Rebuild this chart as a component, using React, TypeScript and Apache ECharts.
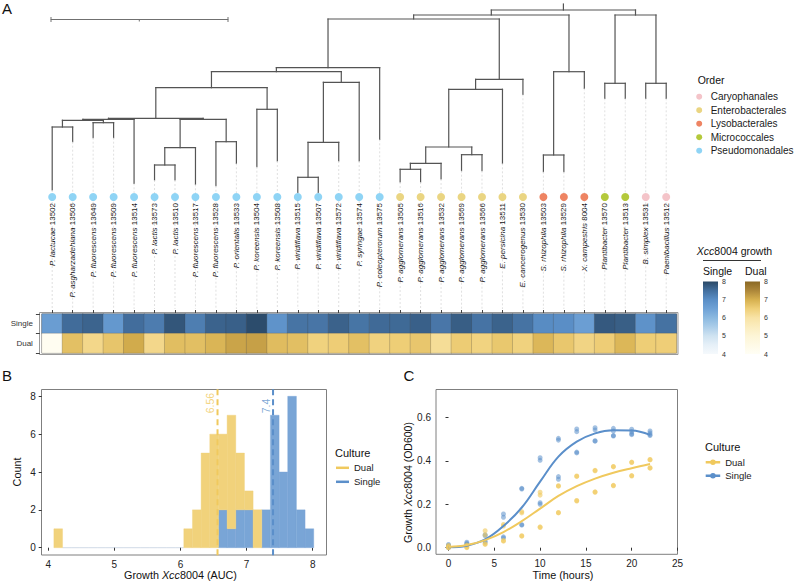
import React, { useEffect, useRef } from "react";
import * as echarts from "echarts";

const FONT = '"Liberation Sans", Arial, Helvetica, sans-serif';

// ---- Isolates, in tree (leaf) order ----
const species = [
  "P. lactucae", "P. asgharzadehiana", "P. fluorescens", "P. fluorescens", "P. fluorescens",
  "P. lactis", "P. lactis", "P. fluorescens", "P. fluorescens", "P. orientalis",
  "P. koreensis", "P. koreensis", "P. viridiflava", "P. viridiflava", "P. viridiflava",
  "P. syringae", "P. coleopterorum", "P. agglomerans", "P. agglomerans", "P. agglomerans",
  "P. agglomerans", "P. agglomerans", "E. persicina", "E. cancerogenus", "S. rhizophila",
  "S. rhizophila", "X. campestris", "Plantibacter", "Plantibacter", "B. simplex", "Paenibacillus",
];
const strainIds = [
  "13502", "13506", "13649", "13509", "13514", "13573", "13510", "13517", "13528", "13533",
  "13504", "13508", "13515", "13507", "13572", "13574", "13575", "13505", "13516", "13532",
  "13569", "13566", "13511", "13530", "13503", "13529", "8004", "13570", "13513", "13531", "13512",
];
const orderNames = ["Caryophanales", "Enterobacterales", "Lysobacterales", "Micrococcales", "Pseudomonadales"];
const orderColors = ["#f4c4c9", "#ead582", "#ee8463", "#b4c93b", "#8fd4f5"];
// index into orderNames for every leaf
const leafOrder = [4, 4, 4, 4, 4, 4, 4, 4, 4, 4, 4, 4, 4, 4, 4, 4, 4, 1, 1, 1, 1, 1, 1, 1, 2, 2, 2, 3, 3, 0, 0];

// ---- Tree: distance from the root of every tip and every clade ----
const tipDepth = [
  180, 131.7, 127.7, 127.7, 173.3, 170, 170, 174.3, 175.7, 153.3, 156.7, 151, 182.7, 182.7, 151, 151,
  129.3, 172, 172, 169, 160.7, 160.7, 153.3, 84.3, 161.7, 161.7, 78.3, 88.3, 88.3, 88.3, 88.3,
];
// [clade, depth, children (leaf index or clade)]
const clades: [string, number, (string | number)[]][] = [
  ["root", 0, ["left", "right"]],
  ["left", 5, ["pe", "lyso"]],
  ["right", 5, ["micro", "caryo"]],
  ["pe", 9, ["pseudo", "entero"]],
  ["pseudo", 57.7, ["p1", 16]],
  ["p1", 61.7, ["p2", "p3"]],
  ["p2", 77.7, ["p4", "p5"]],
  ["p4", 108.3, ["p6", "p7"]],
  ["p6", 109.3, ["p8", 4]],
  ["p8", 110.3, ["p9", "p10"]],
  ["p9", 117, [0, 1]],
  ["p10", 112.7, [2, 3]],
  ["p7", 109.3, ["p11", "p12"]],
  ["p11", 137.7, ["p13", 7]],
  ["p13", 155, [5, 6]],
  ["p12", 131.7, [8, 9]],
  ["p5", 99.3, [10, 11]],
  ["p3", 72.3, ["p14", 15]],
  ["p14", 132.3, ["p15", 14]],
  ["p15", 167.3, [12, 13]],
  ["entero", 69.3, ["e1", 23]],
  ["e1", 79.3, ["e2", 22]],
  ["e2", 137, ["e3", "e4"]],
  ["e3", 153.3, ["e5", 19]],
  ["e5", 159.3, [17, 18]],
  ["e4", 144.7, [20, 21]],
  ["lyso", 61.7, ["ly1", 26]],
  ["ly1", 145, [24, 25]],
  ["micro", 73.3, [27, 28]],
  ["caryo", 73.3, [29, 30]],
];
const rootEdge = 6;

// ---- Xcc8004 growth (AUC) per isolate ----
const singleAUC = [
  6.63, 7.54, 7.64, 6.76, 7.52, 7.29, 7.82, 7.26, 7.65, 7.69, 7.95, 6.87, 7.42, 7.40, 7.67, 7.41,
  7.56, 7.57, 7.69, 7.38, 7.72, 7.43, 7.66, 7.44, 7.04, 7.00, 6.60, 7.78, 7.71, 6.90, 7.45,
];
const dualAUC = [
  4.15, 6.74, 6.30, 6.66, 7.06, 6.29, 6.78, 6.76, 6.92, 7.15, 7.20, 6.80, 6.76, 6.43, 6.53, 6.75,
  6.42, 6.52, 6.64, 6.16, 6.55, 6.41, 6.62, 6.435, 6.88, 6.63, 6.37, 6.53, 6.89, 6.52, 6.51,
];
const meanDual = 6.56;
const meanSingle = 7.4;

// ---- Growth curves (OD600), four replicates per culture ----
const hours = [0, 2, 4, 6, 8, 10, 12, 14, 16, 18, 20, 22];
const singleOD = [
  [0.015, 0.025, 0.06, 0.155, 0.273, 0.414, 0.503, 0.546, 0.552, 0.549, 0.545, 0.537],
  [0.01, 0.02, 0.055, 0.14, 0.27, 0.402, 0.495, 0.534, 0.542, 0.537, 0.533, 0.528],
  [0.0, 0.015, 0.03, 0.05, 0.106, 0.207, 0.327, 0.44, 0.492, 0.516, 0.524, 0.52],
  [0.003, 0.012, 0.025, 0.045, 0.104, 0.2, 0.315, 0.436, 0.49, 0.514, 0.52, 0.516],
];
const dualOD = [
  [0.01, 0.012, 0.078, 0.107, 0.166, 0.255, 0.285, 0.33, 0.356, 0.374, 0.394, 0.406],
  [0.005, 0.008, 0.058, 0.1, 0.16, 0.242, 0.283, 0.328, 0.354, 0.372, 0.392, 0.404],
  [0.0, 0.0, 0.018, 0.033, 0.055, 0.096, 0.162, 0.217, 0.257, 0.287, 0.332, 0.368],
  [0.0, 0.002, 0.015, 0.03, 0.053, 0.093, 0.16, 0.215, 0.255, 0.285, 0.33, 0.366],
];
const singleFit = [0.002, 0.009, 0.038, 0.1, 0.185, 0.304, 0.419, 0.488, 0.526, 0.54, 0.539, 0.519];
const dualFit = [0.003, 0.012, 0.035, 0.072, 0.122, 0.18, 0.238, 0.283, 0.318, 0.345, 0.366, 0.385];

// colour scales for the heatmap, evenly spread over 4..8
const singleScale = ["#f5f9fc", "#e6f0f8", "#cfe3f1", "#abcde9", "#8bb9e0", "#6fa2d6", "#5a8ec6", "#436f9e", "#2a4866"];
const dualScale = ["#fffef5", "#fefae6", "#fdf5d6", "#fbedbf", "#f8e3a6", "#efcf78", "#d6b04f", "#ad873a", "#8a6824"];

const singleFill = "#79a5d6";
const dualFill = "#f1d27b";
const singleLine = "#5b8fca";
const dualLine = "#f0c95e";

const DOT_DEPTH = 187;
const LEADER_END = 299;

function treeSegments() {
  const map = new Map(clades.map((c) => [c[0], c]));
  const segs: number[][] = [];
  const place = (node: string | number): number => {
    if (typeof node === "number") return node;
    const [, depth, kids] = map.get(node)!;
    const xs = kids.map((k) => {
      const x = place(k);
      const d = typeof k === "number" ? tipDepth[k] : map.get(k)![1];
      segs.push([x, depth, x, d, 0]);
      return x;
    });
    segs.push([Math.min(...xs), depth, Math.max(...xs), depth, 0]);
    return xs.reduce((a, b) => a + b, 0) / xs.length;
  };
  const rootX = place("root");
  segs.push([rootX, -rootEdge, rootX, 0, 0]);
  tipDepth.forEach((d, i) => segs.push([i, d, i, LEADER_END, 1]));
  return segs;
}

function histogram() {
  const all = [...singleAUC, ...dualAUC];
  const lo = Math.min(...all);
  const hi = Math.max(...all);
  const nb = 30;
  const w = (hi - lo) / (nb - 1);
  const start = lo - w / 2;
  const count = (vals: number[]) => {
    const c = new Array(nb).fill(0);
    vals.forEach((v) => {
      c[Math.min(nb - 1, Math.floor((v - start) / w))]++;
    });
    return c;
  };
  const s = count(singleAUC);
  const d = count(dualAUC);
  const single: number[][] = [];
  const dual: number[][] = [];
  for (let k = 0; k < nb; k++) {
    const x0 = start + k * w;
    const x1 = x0 + w;
    single.push([x0, x1, 0, s[k], s[k] + d[k] === 0 ? 1 : 0]);
    dual.push([x0, x1, s[k], s[k] + d[k], 0]);
  }
  return { single, dual };
}

function histRenderer(fill: string) {
  return (params: any, api: any) => {
    const x0 = api.value(0);
    const x1 = api.value(1);
    const y0 = api.value(2);
    const y1 = api.value(3);
    const p0 = api.coord([x0, y0]);
    const p1 = api.coord([x1, y1]);
    if (y1 <= y0) {
      if (api.value(4) === 1) {
        return {
          type: "line",
          shape: { x1: p0[0], y1: p0[1], x2: p1[0], y2: p0[1] },
          style: { stroke: "rgba(150,172,200,0.45)", lineWidth: 1 },
        };
      }
      return { type: "group", children: [] };
    }
    return {
      type: "rect",
      shape: { x: p0[0], y: p1[1], width: p1[0] - p0[0], height: p0[1] - p1[1] },
      style: { fill, stroke: fill, lineWidth: 0.4 },
    };
  };
}

function colorbarRenderer(scale: string[]) {
  return (params: any, api: any) => {
    const top = api.coord([0, 8]);
    const bot = api.coord([0, 4]);
    const w = api.size([1, 0])[0];
    return {
      type: "rect",
      shape: { x: top[0] - w / 2, y: top[1], width: w, height: bot[1] - top[1] },
      style: {
        fill: new echarts.graphic.LinearGradient(
          0, 1, 0, 0,
          scale.map((c, k) => ({ offset: k / (scale.length - 1), color: c }))
        ),
      },
    };
  };
}

function buildOption() {
  const segs = treeSegments();
  const hist = histogram();
  const leafLabels = species.map((s, i) => `${s} ${strainIds[i]}`);
  const tickLabel = { fontSize: 10, color: "#222", fontFamily: FONT };
  const titleStyle = { fontSize: 10.8, color: "#111", fontFamily: FONT };
  const italic = { fontStyle: "italic", fontSize: 10.8, color: "#111", fontFamily: FONT };
  const tick = { show: true, length: 3, lineStyle: { color: "#333", width: 1 } };

  const series: any[] = [];

  series.push({
    type: "custom",
    xAxisIndex: 1,
    yAxisIndex: 0,
    silent: true,
    z: 3,
    encode: { x: [0, 2], y: [1, 3] },
    data: segs,
    renderItem: (params: any, api: any) => {
      const a = api.coord([api.value(0), api.value(1)]);
      const b = api.coord([api.value(2), api.value(3)]);
      const dashed = api.value(4) === 1;
      return {
        type: "line",
        shape: { x1: a[0], y1: a[1], x2: b[0], y2: b[1] },
        style: dashed
          ? { stroke: "#d2d2d2", lineWidth: 0.7, lineDash: [2, 2] }
          : { stroke: "#545454", lineWidth: 1.2, lineCap: "square" },
      };
    },
  });

  orderNames.forEach((name, k) => {
    series.push({
      type: "scatter",
      name,
      xAxisIndex: 1,
      yAxisIndex: 0,
      symbolSize: 8,
      z: 5,
      itemStyle: { color: orderColors[k], opacity: 1 },
      data: leafOrder.map((o, i) => (o === k ? [i, DOT_DEPTH] : null)).filter(Boolean),
    });
  });

  const heatSingleIdx = series.length;
  series.push({
    type: "heatmap",
    name: "singleHeat",
    xAxisIndex: 2,
    yAxisIndex: 1,
    itemStyle: { borderColor: "rgba(60,60,60,0.35)", borderWidth: 0.6 },
    data: singleAUC.map((v, i) => [i, 1, v]),
  });
  const heatDualIdx = series.length;
  series.push({
    type: "heatmap",
    name: "dualHeat",
    xAxisIndex: 2,
    yAxisIndex: 1,
    itemStyle: { borderColor: "rgba(60,60,60,0.35)", borderWidth: 0.6 },
    data: dualAUC.map((v, i) => [i, 0, v]),
  });

  series.push({ type: "custom", xAxisIndex: 3, yAxisIndex: 2, silent: true, data: [[0, 8]], renderItem: colorbarRenderer(singleScale) });
  series.push({ type: "custom", xAxisIndex: 4, yAxisIndex: 3, silent: true, data: [[0, 8]], renderItem: colorbarRenderer(dualScale) });

  series.push({
    type: "custom", name: "Single", xAxisIndex: 5, yAxisIndex: 4, silent: true, clip: false,
    encode: { x: [0, 1], y: [2, 3] }, data: hist.single, renderItem: histRenderer(singleFill),
  });
  series.push({
    type: "custom", name: "Dual", xAxisIndex: 5, yAxisIndex: 4, silent: true, clip: false,
    encode: { x: [0, 1], y: [2, 3] }, data: hist.dual, renderItem: histRenderer(dualFill),
  });

  [[meanDual, dualLine], [meanSingle, singleLine]].forEach(([m, col]) => {
    series.push({
      type: "line",
      xAxisIndex: 5,
      yAxisIndex: 4,
      silent: true,
      clip: false,
      symbol: "none",
      z: 4,
      lineStyle: { color: col, width: 2, type: [6, 4] },
      data: [[m, -0.4], [m, 8.4]],
    });
    series.push({
      type: "scatter",
      xAxisIndex: 5,
      yAxisIndex: 4,
      silent: true,
      clip: false,
      symbolSize: 1,
      z: 4,
      itemStyle: { color: "rgba(0,0,0,0)" },
      data: [[(m as number) - 0.026, 7.1]],
      label: {
        show: true,
        formatter: String(m),
        position: "inside",
        rotate: 90,
        align: "left",
        verticalAlign: "bottom",
        fontSize: 10.5,
        fontFamily: FONT,
        color: col,
      },
    });
  });

  const flatten = (reps: number[][]) => reps.flatMap((r) => r.map((v, i) => [hours[i], v]));
  series.push({
    type: "scatter", name: "Single", xAxisIndex: 6, yAxisIndex: 5, clip: false, symbolSize: 5,
    itemStyle: { color: singleLine, opacity: 0.55 }, data: flatten(singleOD),
  });
  series.push({
    type: "scatter", name: "Dual", xAxisIndex: 6, yAxisIndex: 5, clip: false, symbolSize: 5,
    itemStyle: { color: dualLine, opacity: 0.62 }, data: flatten(dualOD),
  });
  series.push({
    type: "line", name: "Single", xAxisIndex: 6, yAxisIndex: 5, smooth: 0.4, symbol: "none",
    lineStyle: { color: singleLine, width: 2 }, data: hours.map((t, i) => [t, singleFit[i]]),
  });
  series.push({
    type: "line", name: "Dual", xAxisIndex: 6, yAxisIndex: 5, smooth: 0.4, symbol: "none",
    lineStyle: { color: dualLine, width: 2 }, data: hours.map((t, i) => [t, dualFit[i]]),
  });

  const lineDotIcon = "path://M0,1.8H14V4.2H0Z M4.3,3A2.7,2.7,0,1,1,9.7,3A2.7,2.7,0,1,1,4.3,3Z";
  const legendText = { fontSize: 9.5, color: "#1a1a1a", fontFamily: FONT };

  return {
    animation: false,
    backgroundColor: "#ffffff",
    textStyle: { fontFamily: FONT },
    grid: [
      { left: 52.2, top: 4, width: 614, height: 197 },
      { left: 41.9, top: 314, width: 634.6, height: 39, show: true, borderColor: "#8a8a8a", borderWidth: 1 },
      { left: 703, top: 281.5, width: 15, height: 72.5 },
      { left: 745, top: 281.5, width: 15, height: 72.5 },
      { left: 48.3, top: 396.3, width: 264.4, height: 151.4 },
      { left: 448.5, top: 417.3, width: 229, height: 130.4 },
    ],
    xAxis: [
      {
        gridIndex: 0, type: "category", data: leafLabels, boundaryGap: false, position: "bottom",
        axisLine: { show: false }, axisTick: { show: false },
        axisLabel: {
          interval: 0, rotate: 90, margin: 2, fontSize: 8, color: "#111",
          formatter: (v: string, i: number) => `{i|${species[i]}} {n|${strainIds[i]}}`,
          rich: {
            i: { fontStyle: "italic", fontSize: 8, color: "#111", fontFamily: FONT },
            n: { fontSize: 8, color: "#111", fontFamily: FONT },
          },
        },
      },
      { gridIndex: 0, type: "value", min: 0, max: 30, show: false },
      {
        gridIndex: 1, type: "category", data: leafLabels, position: "top", offset: 1,
        axisLine: { show: false },
        axisTick: { show: true, alignWithLabel: true, interval: 0, length: 3, lineStyle: { color: "#444" } },
        axisLabel: { show: false },
      },
      { gridIndex: 2, type: "category", data: [""], show: false },
      { gridIndex: 3, type: "category", data: [""], show: false },
      {
        gridIndex: 4, type: "value", min: 4, max: 8, interval: 1, offset: 7.3,
        axisLine: { show: false }, axisTick: tick, splitLine: { show: false },
        axisLabel: { ...tickLabel, margin: 4 },
        name: "Growth {i|Xcc}8004 (AUC)", nameLocation: "middle", nameGap: 14.5,
        nameTextStyle: { ...titleStyle, rich: { i: italic } },
      },
      {
        gridIndex: 5, type: "value", min: 0, max: 25, interval: 5, offset: 6.6,
        axisLine: { show: false }, axisTick: tick, splitLine: { show: false },
        axisLabel: { ...tickLabel, margin: 4 },
        name: "Time (hours)", nameLocation: "middle", nameGap: 15.2, nameTextStyle: titleStyle,
      },
    ],
    yAxis: [
      { gridIndex: 0, type: "value", min: -6, max: 191, inverse: true, show: false },
      {
        gridIndex: 1, type: "category", data: ["Dual", "Single"], offset: 2,
        axisLine: { show: false },
        axisTick: { show: true, length: 4, lineStyle: { color: "#444" } },
        axisLabel: { fontSize: 8, color: "#333", margin: 7 },
      },
      {
        gridIndex: 2, type: "value", min: 4, max: 8, interval: 1, position: "right",
        axisLine: { show: false }, axisTick: { show: false }, splitLine: { show: false },
        axisLabel: { fontSize: 7, color: "#333", margin: 4 },
      },
      {
        gridIndex: 3, type: "value", min: 4, max: 8, interval: 1, position: "right",
        axisLine: { show: false }, axisTick: { show: false }, splitLine: { show: false },
        axisLabel: { fontSize: 7, color: "#333", margin: 4 },
      },
      {
        gridIndex: 4, type: "value", min: 0, max: 8, interval: 2, offset: 6.6,
        axisLine: { show: false }, axisTick: tick, splitLine: { show: false },
        axisLabel: { ...tickLabel, margin: 6 },
        name: "Count", nameLocation: "middle", nameRotate: 90, nameGap: 19, nameTextStyle: titleStyle,
      },
      {
        gridIndex: 5, type: "value", min: 0, max: 0.6, interval: 0.2, offset: 12.5,
        axisLine: { show: false }, axisTick: tick, splitLine: { show: false },
        axisLabel: { ...tickLabel, margin: 5, formatter: (v: number) => v.toFixed(1) },
        name: "Growth {i|Xcc}8004 (OD600)", nameLocation: "middle", nameRotate: 90, nameGap: 23,
        nameTextStyle: { ...titleStyle, fontSize: 10.5, rich: { i: { ...italic, fontSize: 10.5 } } },
      },
    ],
    visualMap: [
      { type: "continuous", show: false, seriesIndex: heatSingleIdx, dimension: 2, min: 4, max: 8, inRange: { color: singleScale } },
      { type: "continuous", show: false, seriesIndex: heatDualIdx, dimension: 2, min: 4, max: 8, inRange: { color: dualScale } },
    ],
    legend: [
      {
        data: orderNames, orient: "vertical", left: 696.2, top: 91.7, padding: 0,
        itemWidth: 13, itemHeight: 6, itemGap: 3.5, icon: "circle", selectedMode: false,
        textStyle: { ...legendText, fontSize: 10 },
      },
      {
        data: [
          { name: "Dual", icon: "rect", itemStyle: { color: dualLine } },
          { name: "Single", icon: "rect", itemStyle: { color: singleLine } },
        ],
        orient: "vertical", left: 336, top: 462.8, padding: 0, itemWidth: 13, itemHeight: 2.5, itemGap: 4,
        selectedMode: false, textStyle: legendText,
      },
      {
        data: [
          { name: "Dual", icon: lineDotIcon, itemStyle: { color: dualLine } },
          { name: "Single", icon: lineDotIcon, itemStyle: { color: singleLine } },
        ],
        orient: "vertical", left: 705.7, top: 457.2, padding: 0, itemWidth: 14.5, itemHeight: 6, itemGap: 3.6,
        selectedMode: false, textStyle: legendText,
      },
    ],
    graphic: [
      { type: "text", x: 2, y: 8.7, style: { text: "A", fontSize: 15, fontFamily: FONT, fill: "#111", verticalAlign: "middle" } },
      { type: "text", x: 2, y: 375, style: { text: "B", fontSize: 15, fontFamily: FONT, fill: "#111", verticalAlign: "middle" } },
      { type: "text", x: 403.5, y: 375, style: { text: "C", fontSize: 15, fontFamily: FONT, fill: "#111", verticalAlign: "middle" } },
      // tree scale bar
      { type: "line", shape: { x1: 50.7, y1: 19.5, x2: 228.3, y2: 19.5 }, style: { stroke: "#707070", lineWidth: 1 } },
      { type: "line", shape: { x1: 51, y1: 17, x2: 51, y2: 22 }, style: { stroke: "#707070", lineWidth: 1 } },
      { type: "line", shape: { x1: 228, y1: 17, x2: 228, y2: 22 }, style: { stroke: "#707070", lineWidth: 1 } },
      { type: "line", shape: { x1: 139.3, y1: 19.5, x2: 139.3, y2: 21.5 }, style: { stroke: "#707070", lineWidth: 1 } },
      // legend titles
      { type: "text", x: 697.7, y: 80, style: { text: "Order", fontSize: 10.5, fontFamily: FONT, fill: "#111", verticalAlign: "middle" } },
      {
        type: "text", x: 734.5, y: 251,
        style: {
          text: "{i|Xcc}8004 growth", fontSize: 10.5, fontFamily: FONT, fill: "#111", align: "center", verticalAlign: "middle",
          rich: { i: { fontStyle: "italic", fontSize: 10.5, fontFamily: FONT, fill: "#111" } },
        },
      },
      { type: "line", shape: { x1: 703, y1: 260.5, x2: 761, y2: 260.5 }, style: { stroke: "#333", lineWidth: 1 } },
      { type: "text", x: 703, y: 271, style: { text: "Single", fontSize: 10.5, fontFamily: FONT, fill: "#111", verticalAlign: "middle" } },
      { type: "text", x: 745, y: 271, style: { text: "Dual", fontSize: 10.5, fontFamily: FONT, fill: "#111", verticalAlign: "middle" } },
      { type: "text", x: 335, y: 452.7, style: { text: "Culture", fontSize: 11, fontFamily: FONT, fill: "#111", verticalAlign: "middle" } },
      { type: "text", x: 705, y: 446.7, style: { text: "Culture", fontSize: 11, fontFamily: FONT, fill: "#111", verticalAlign: "middle" } },
      // panel frames
      { type: "rect", shape: { x: 39.5, y: 312.5, width: 638.5, height: 42 }, style: { fill: "none", stroke: "#9a9a9a", lineWidth: 1 } },
      { type: "rect", shape: { x: 41.5, y: 389.5, width: 285, height: 165.5 }, style: { fill: "none", stroke: "#7f7f7f", lineWidth: 1 } },
      { type: "rect", shape: { x: 436, y: 389.5, width: 241.5, height: 164.8 }, style: { fill: "none", stroke: "#7f7f7f", lineWidth: 1 } },
    ],
    series,
  };
}

export default function App() {
  const ref = useRef<HTMLDivElement>(null);
  useEffect(() => {
    if (!ref.current) return;
    const chart = echarts.init(ref.current, undefined, { renderer: "svg" });
    chart.setOption(buildOption() as any);
    return () => chart.dispose();
  }, []);
  return (
    <div
      ref={ref}
      style={{ position: "absolute", left: 0, top: 0, width: 800, height: 582, background: "#ffffff" }}
    />
  );
}
